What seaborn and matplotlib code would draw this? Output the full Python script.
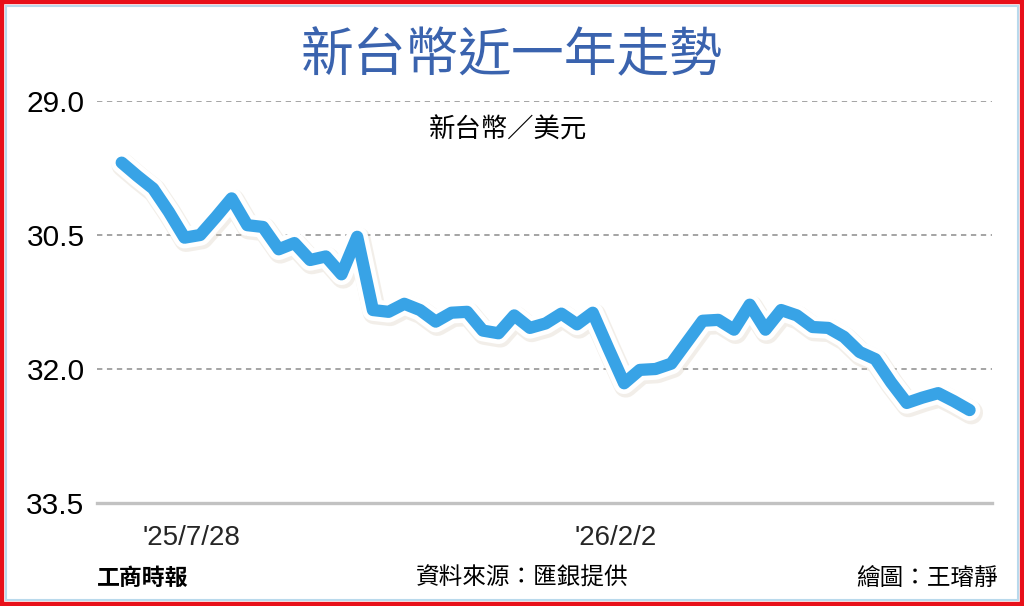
import numpy as np
import pandas as pd
import seaborn as sns
import matplotlib
matplotlib.use('Agg')
import matplotlib.pyplot as plt
import matplotlib.dates as mdates
import matplotlib.patheffects as pe
from matplotlib.patches import Rectangle

# 新台幣兌美元 週資料
start_date = '2025-06-27'
rates = [29.69, 29.84, 29.98, 30.24, 30.53, 30.50, 30.30, 30.09, 30.39, 30.41,
         30.66, 30.59, 30.78, 30.74, 30.94, 30.52, 31.34, 31.36, 31.27, 31.34,
         31.47, 31.37, 31.36, 31.57, 31.60, 31.40, 31.54, 31.49, 31.38, 31.50,
         31.37, 31.77, 32.16, 32.01, 32.00, 31.94, 31.70, 31.46, 31.45, 31.56,
         31.28, 31.56, 31.34, 31.40, 31.53, 31.54, 31.64, 31.81, 31.89, 32.15,
         32.38, 32.32, 32.27, 32.36, 32.46]
dates = pd.date_range(start_date, periods=len(rates), freq='7D')
df = pd.DataFrame({'date': dates, 'rate': rates})

y_ticks = [29.0, 30.5, 32.0, 33.5]
x_ticks = ['2025-07-28', '2026-02-02']
x_tick_labels = ["'25/7/28", "'26/2/2"]

title = '新台幣近一年走勢'
unit = '新台幣／美元'
source = '資料來源：匯銀提供'
credit = '繪圖：王璿靜'
paper = '工商時報'

sns.set_style('white')
plt.rcParams['font.family'] = ['Liberation Sans', 'Noto Sans CJK TC', 'DejaVu Sans']
cjk = ['Noto Sans CJK TC', 'DejaVu Sans']

W, H = 1024, 606
fig = plt.figure(figsize=(W / 100, H / 100), dpi=100)
ax = fig.add_axes([97 / W, 1 - 503 / H, (992 - 97) / W, (503 - 101) / H])

sns.lineplot(data=df, x='date', y='rate', ax=ax, color='#38a3e6', lw=8.8, zorder=5)
line = ax.lines[0]
line.set_solid_joinstyle('round')
line.set_solid_capstyle('round')
line.set_path_effects([
    pe.SimpleLineShadow(offset=(1.2, -1.8), shadow_color='#cdbfa8', alpha=0.25, linewidth=17),
    pe.Stroke(linewidth=15.5, foreground='white'),
    pe.Normal(),
])

ax.set_ylim(33.5, 29.0)
ax.set_yticks(y_ticks)
ax.set_yticklabels([f'{v:.1f}' for v in y_ticks], fontsize=21.5)
ax.set_xlim(pd.Timestamp('2025-06-16'), pd.Timestamp('2026-07-20'))
ax.set_xticks(pd.to_datetime(x_ticks))
ax.set_xticklabels(x_tick_labels, fontsize=20)
ax.set_xlabel('')
ax.set_ylabel('')

ax.tick_params(axis='y', length=0, pad=9, colors='black')
ax.tick_params(axis='x', length=10, width=2, color='#b5b5b5', pad=6, direction='out')

ax.yaxis.grid(True, linestyle=(0, (3.5, 3)), color='#8c8c8c', lw=1.1)
ax.xaxis.grid(False)
for s in ['top', 'right', 'left']:
    ax.spines[s].set_visible(False)
ax.spines['bottom'].set_color('#c2c2c2')
ax.spines['bottom'].set_linewidth(2.4)
ax.spines['bottom'].set_zorder(3)

fig.text(512 / W, 1 - 56 / H, title, ha='center', va='center', fontsize=38,
         color='#3a63ae', family=cjk, fontweight='medium')
fig.text(508 / W, 1 - 130 / H, unit, ha='center', va='center', fontsize=19,
         color='black', family=cjk)
fig.text(97 / W, 1 - 578 / H, paper, ha='left', va='center', fontsize=16.5,
         color='black', family=cjk, fontweight='black')
fig.text(522 / W, 1 - 578 / H, source, ha='center', va='center', fontsize=17,
         color='black', family=cjk)
fig.text(998 / W, 1 - 578 / H, credit, ha='right', va='center', fontsize=17,
         color='black', family=cjk)

# 外框
fig.add_artist(Rectangle((0, 0), 1, 1, transform=fig.transFigure, fill=False,
                         edgecolor='#e8101a', lw=6))
fig.add_artist(Rectangle((6 / W, 6 / H), 1 - 12 / W, 1 - 12 / H, transform=fig.transFigure,
                         fill=False, edgecolor='#b9d9ec', lw=1.5))

fig.savefig('out.png', dpi=100)
